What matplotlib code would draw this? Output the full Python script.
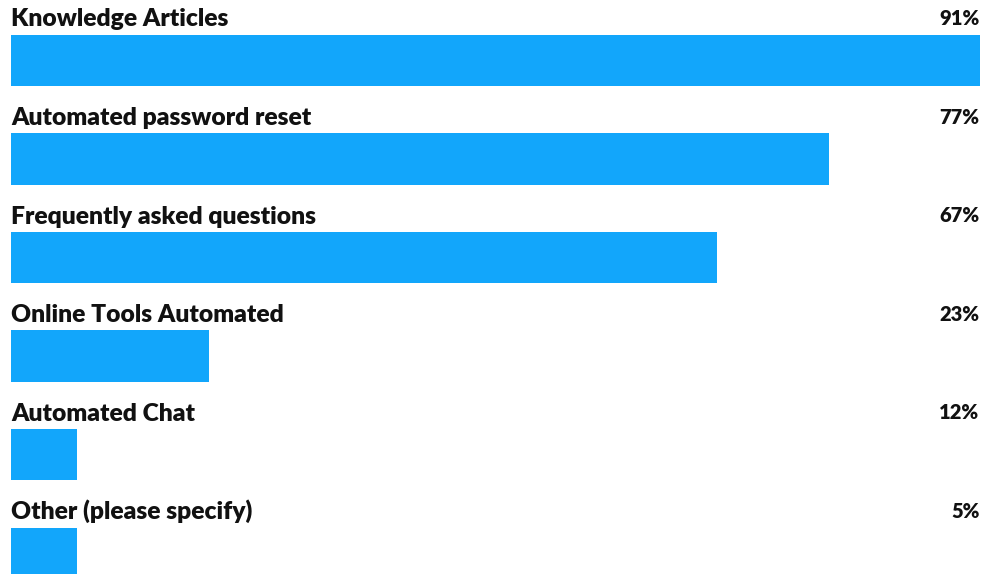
import matplotlib.pyplot as plt

categories = [
    "Knowledge Articles",
    "Automated password reset",
    "Frequently asked questions",
    "Online Tools Automated",
    "Automated Chat",
    "Other (please specify)",
]
# percentages printed on the right
percent_labels = [91, 77, 67, 23, 12, 5]
# bar lengths as drawn in the picture (same scale, full width = 91)
bar_lengths = [91, 76.8, 66.3, 18.6, 6.2, 6.2]

bar_color = "#12a6fb"
text_color = "#111111"

plt.rcParams['font.family'] = ['Lato', 'DejaVu Sans']

fig = plt.figure(figsize=(9.84, 5.74), dpi=100)
ax = fig.add_axes([0, 0, 1, 1])

rows = list(range(len(categories)))
ax.barh(rows, bar_lengths, height=0.518, color=bar_color, left=0)

for i, (cat, pct) in enumerate(zip(categories, percent_labels)):
    ax.text(0, i - 0.345, cat, ha="left", va="baseline", fontsize=17.7,
            fontweight="heavy", color=text_color)
    ax.text(90.95, i - 0.36, f"{pct}%", ha="right", va="baseline", fontsize=14.5,
            fontweight="heavy", color=text_color)

ax.set_xlim(-1.033, 91.376)
ax.set_ylim(5.213, -0.614)
ax.axis("off")

fig.savefig("out.png", dpi=100)
